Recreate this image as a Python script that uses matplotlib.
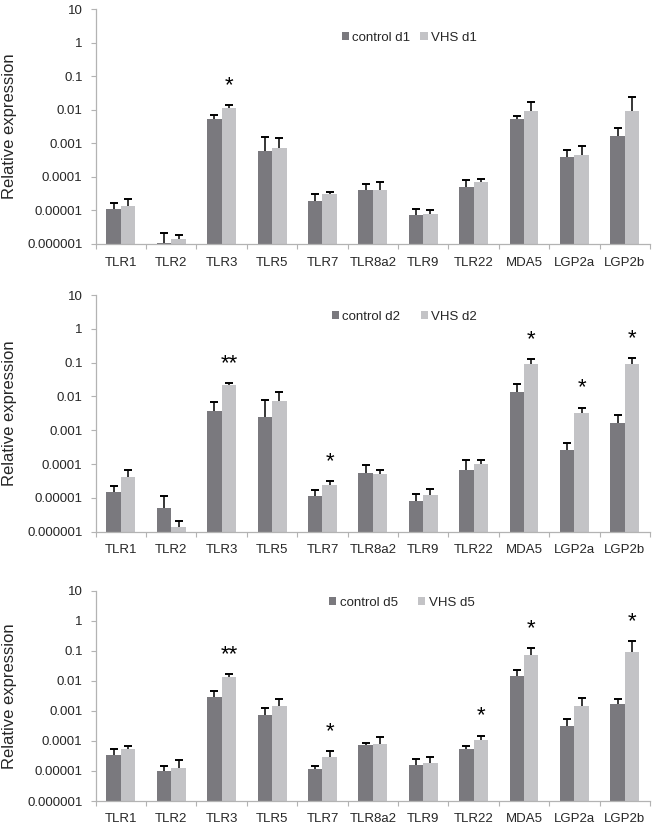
import matplotlib
matplotlib.use("Agg")
import matplotlib.pyplot as plt
import numpy as np

plt.rcParams['font.family'] = ['Liberation Sans', 'DejaVu Sans']

genes = ['TLR1', 'TLR2', 'TLR3', 'TLR5', 'TLR7', 'TLR8a2', 'TLR9', 'TLR22', 'MDA5', 'LGP2a', 'LGP2b']

# day 1
d1_ctrl = [1.1e-5, 1.1e-6, 5.4e-3, 5.7e-4, 1.9e-5, 4.2e-5, 7.2e-6, 5.0e-5, 5.4e-3, 4.0e-4, 1.7e-3]
d1_ctrl_sd = [0.6e-5, 1.0e-6, 1.7e-3, 9.3e-4, 1.1e-5, 2.1e-5, 3.8e-6, 2.9e-5, 1.0e-3, 2.2e-4, 1.1e-3]
d1_vhs = [1.4e-5, 1.4e-6, 1.1e-2, 7.0e-4, 3.0e-5, 4.2e-5, 7.6e-6, 7.1e-5, 9.3e-3, 4.5e-4, 9.1e-3]
d1_vhs_sd = [0.8e-5, 0.5e-6, 2.8e-3, 7.0e-4, 0.6e-5, 2.9e-5, 2.4e-6, 1.6e-5, 7.7e-3, 3.8e-4, 1.54e-2]
d1_sig = ['', '', '*', '', '', '', '', '', '', '', '']

# day 2
d2_ctrl = [1.5e-5, 4.9e-6, 3.6e-3, 2.5e-3, 1.1e-5, 5.3e-5, 8.3e-6, 6.7e-5, 1.36e-2, 2.6e-4, 1.6e-3]
d2_ctrl_sd = [0.8e-5, 6.1e-6, 3.1e-3, 5.2e-3, 0.6e-5, 4.0e-5, 4.7e-6, 6.3e-5, 1.04e-2, 1.5e-4, 1.2e-3]
d2_vhs = [4.1e-5, 1.35e-6, 2.2e-2, 7.5e-3, 2.4e-5, 5.2e-5, 1.2e-5, 1.02e-4, 9.3e-2, 3.2e-3, 9.3e-2]
d2_vhs_sd = [2.5e-5, 0.75e-6, 2.5e-3, 5.8e-3, 0.8e-5, 1.5e-5, 0.6e-5, 2.8e-5, 3.4e-2, 1.5e-3, 4.7e-2]
d2_sig = ['', '', '**', '', '*', '', '', '', '*', '*', '*']

# day 5
d5_ctrl = [3.5e-5, 1.0e-5, 2.96e-3, 7.5e-4, 1.2e-5, 7.2e-5, 1.6e-5, 5.2e-5, 1.48e-2, 3.2e-4, 1.74e-3]
d5_ctrl_sd = [1.8e-5, 0.5e-5, 1.54e-3, 5.0e-4, 0.25e-5, 1.4e-5, 0.9e-5, 1.8e-5, 8.6e-3, 2.0e-4, 6.6e-4]
d5_vhs = [5.5e-5, 1.3e-5, 1.34e-2, 1.5e-3, 2.9e-5, 7.6e-5, 1.9e-5, 1.06e-4, 7.2e-2, 1.45e-3, 9.3e-2]
d5_vhs_sd = [1.5e-5, 1.0e-5, 2.9e-3, 1.0e-3, 1.7e-5, 6.4e-5, 1.0e-5, 4.4e-5, 4.8e-2, 1.15e-3, 0.117]
d5_sig = ['', '', '**', '', '*', '', '', '*', '*', '', '*']

ytick_vals = [1e-6, 1e-5, 1e-4, 1e-3, 1e-2, 1e-1, 1, 10]
ytick_labels = ['0.000001', '0.00001', '0.0001', '0.001', '0.01', '0.1', '1', '10']

panels = [
    ('d1', d1_ctrl, d1_ctrl_sd, d1_vhs, d1_vhs_sd, d1_sig),
    ('d2', d2_ctrl, d2_ctrl_sd, d2_vhs, d2_vhs_sd, d2_sig),
    ('d5', d5_ctrl, d5_ctrl_sd, d5_vhs, d5_vhs_sd, d5_sig),
]

C_CTRL = '#7a797e'
C_VHS = '#c3c3c6'
AX_COL = '#b3b3b3'
TXT = '#262626'

W, H = 655, 825
fig = plt.figure(figsize=(W / 100, H / 100), dpi=100)

# axes boxes in pixels: (left, top, right, bottom)
boxes = [(95.7, 9, 650, 244), (95.7, 295, 650, 531.7), (95.7, 590.7, 650, 801)]
legend_pos = [(0.444, 0.877, 0.75), (0.426, 0.908, 1.55), (0.421, 0.942, 1.55)]

bw = 0.287
for (day, ctrl, csd, vhs, vsd, sig), (l, t, r, b), (lx, ly, cs) in zip(panels, boxes, legend_pos):
    ax = fig.add_axes([l / W, 1 - b / H, (r - l) / W, (b - t) / H])
    x = np.arange(len(genes))
    ctrl = np.array(ctrl); vhs = np.array(vhs)
    csd = np.array(csd); vsd = np.array(vsd)
    ax.bar(x - bw / 2, ctrl, width=bw, color=C_CTRL, label='control ' + day, zorder=2)
    ax.bar(x + bw / 2, vhs, width=bw, color=C_VHS, label='VHS ' + day, zorder=2)
    for xs, v, s in ((x - bw / 2, ctrl, csd), (x + bw / 2, vhs, vsd)):
        ax.vlines(xs, v, v + s, color='black', lw=1.1, zorder=3)
        ax.plot(xs, v + s, ls='none', marker='_', ms=6, mew=1.4, color='black', zorder=3)
    for xi, v, s, sg in zip(x, vhs, vsd, sig):
        if sg:
            ax.annotate(sg, (xi + bw / 2, v + s), xytext=(0, 14), textcoords='offset points',
                        ha='center', va='center', fontsize=16, color='black')
    ax.set_yscale('log')
    ax.set_ylim(1e-6, 10)
    ax.set_xlim(-0.5, len(genes) - 0.5)
    ax.set_yticks(ytick_vals)
    ax.set_yticklabels(ytick_labels)
    ax.yaxis.set_minor_locator(matplotlib.ticker.NullLocator())
    ax.set_xticks(x)
    ax.set_xticklabels(genes)
    ax.set_xticks(np.arange(len(genes) + 1) - 0.5, minor=True)
    ax.tick_params(axis='x', which='major', length=0, pad=9, labelsize=9.5, labelcolor=TXT)
    ax.tick_params(axis='x', which='minor', length=3.5, width=0.8, color=AX_COL, direction='out')
    ax.tick_params(axis='y', which='major', length=3.5, width=0.8, color=AX_COL, pad=6,
                   labelsize=9.5, labelcolor=TXT)
    for sp in ('top', 'right'):
        ax.spines[sp].set_visible(False)
    for sp in ('left', 'bottom'):
        ax.spines[sp].set_color(AX_COL)
        ax.spines[sp].set_linewidth(0.9)
    ax.set_ylabel('Relative expression', fontsize=12, color=TXT)
    ax.yaxis.set_label_coords(-0.142, 0.5)
    leg = ax.legend(loc='center left', bbox_to_anchor=(lx, ly), ncol=2, frameon=False,
                    fontsize=9.5, handlelength=0.55, handleheight=0.55, handletextpad=0.25,
                    columnspacing=cs, borderpad=0, borderaxespad=0)
    for txt in leg.get_texts():
        txt.set_color(TXT)

fig.savefig('out.png', dpi=100)
